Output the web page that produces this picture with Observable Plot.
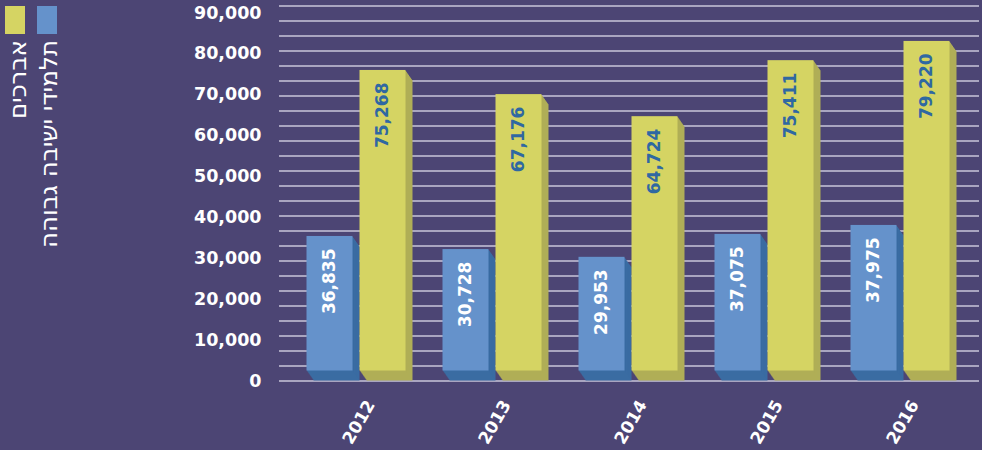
<!DOCTYPE html>
<html><head><meta charset="utf-8">
<script src="https://cdn.jsdelivr.net/npm/d3@7"></script>
<script src="https://cdn.jsdelivr.net/npm/@observablehq/plot@0.6"></script>
<style>
body{margin:0;background:#4c4574;}
#wrap{position:relative;width:982px;height:450px;overflow:hidden;background:#4c4574;}
#legend{position:absolute;left:0;top:0;}
</style></head><body><div id="wrap"></div>
<script>
// ---- data ----
const years = ["2012", "2013", "2014", "2015", "2016"];
const seriesNames = ["תלמידי ישיבה גבוהה", "אברכים"];
// printed data labels
const yeshivaLabels = [36835, 30728, 29953, 37075, 37975];
const avrechimLabels = [75268, 67176, 64724, 75411, 79220];
// drawn bar heights (as measured on the value axis)
const yeshivaBars = [32900, 29700, 27800, 33400, 35600];
const avrechimBars = [73500, 67600, 62200, 75900, 80600];

const colors = {
  yeshiva: {front: "#6592cb", side: "#3a6ca2", label: "#ffffff"},
  avrechim: {front: "#d5d463", side: "#b0ae57", label: "#2f68a2"}
};

const fmt = d3.format(",");
const yeshivaData = years.map((year, i) => ({year, v: yeshivaBars[i], label: yeshivaLabels[i]}));
const avrechimData = years.map((year, i) => ({year, v: avrechimBars[i], label: avrechimLabels[i]}));
const gridValues = d3.range(0, 92000, 3668);

const depthSteps = d3.range(10, 0, -1);
function bar3d(data, off, col) {
  const marks = depthSteps.map(k => Plot.barY(data, {x: "year", y: "v", fill: col.side, dx: off + 0.7 * k, dy: -10 + k}));
  marks.push(Plot.barY(data, {x: "year", y: "v", fill: col.front, dx: off, dy: -10}));
  return marks;
}
function labels(data, off, col) {
  return Plot.text(data, {x: "year", y: "v", text: d => fmt(d.label), dx: off, dy: 2, rotate: -90,
    textAnchor: "end", lineAnchor: "middle", fill: col.label, fontSize: 17, fontWeight: "bold"});
}

const chart = Plot.plot({
  width: 982,
  height: 450,
  marginLeft: 279,
  marginRight: 3,
  marginTop: 6,
  marginBottom: 69,
  style: {background: "transparent", color: "#ffffff", fontFamily: "DejaVu Sans", fontWeight: "bold", fontSize: "17.5px"},
  x: {type: "band", domain: years, range: [288, 968], paddingInner: 0.665, paddingOuter: 0.3325, axis: null},
  y: {domain: [0, 90000], range: [380.5, 12.5], ticks: 10, tickSize: 0, tickPadding: 18, tickFormat: d => fmt(d), label: null},
  marks: [
    Plot.ruleY(gridValues, {stroke: "#c9c6da", strokeWidth: 1.6}),
    ...bar3d(yeshivaData, -26.5, colors.yeshiva),
    ...bar3d(avrechimData, 26.5, colors.avrechim),
    labels(yeshivaData, -26.5, colors.yeshiva),
    labels(avrechimData, 26.5, colors.avrechim),
    Plot.text(years, {x: d => d, frameAnchor: "bottom", text: d => d, rotate: -60, textAnchor: "end",
      lineAnchor: "bottom", dx: 19, dy: 23, fill: "#ffffff", fontSize: 17, fontWeight: "bold"})
  ]
});
document.getElementById("wrap").appendChild(chart);

// legend (left, vertical text)
const leg = d3.select("#wrap").append("svg").attr("id", "legend").attr("width", 75).attr("height", 280);
const legItems = [
  {name: seriesNames[1], color: colors.avrechim.front, x: 5, tx: 17},
  {name: seriesNames[0], color: colors.yeshiva.front, x: 37, tx: 48}
];
legItems.forEach(it => {
  leg.append("rect").attr("x", it.x).attr("y", 6).attr("width", 20).attr("height", 28).attr("fill", it.color);
  leg.append("text").attr("transform", `translate(${it.tx},40) rotate(-90)`)
    .attr("text-anchor", "end").attr("dominant-baseline", "central")
    .attr("fill", "#ffffff").attr("font-family", "DejaVu Sans").attr("font-weight", "normal").attr("font-size", 24.5)
    .text(it.name);
});
</script></body></html>
